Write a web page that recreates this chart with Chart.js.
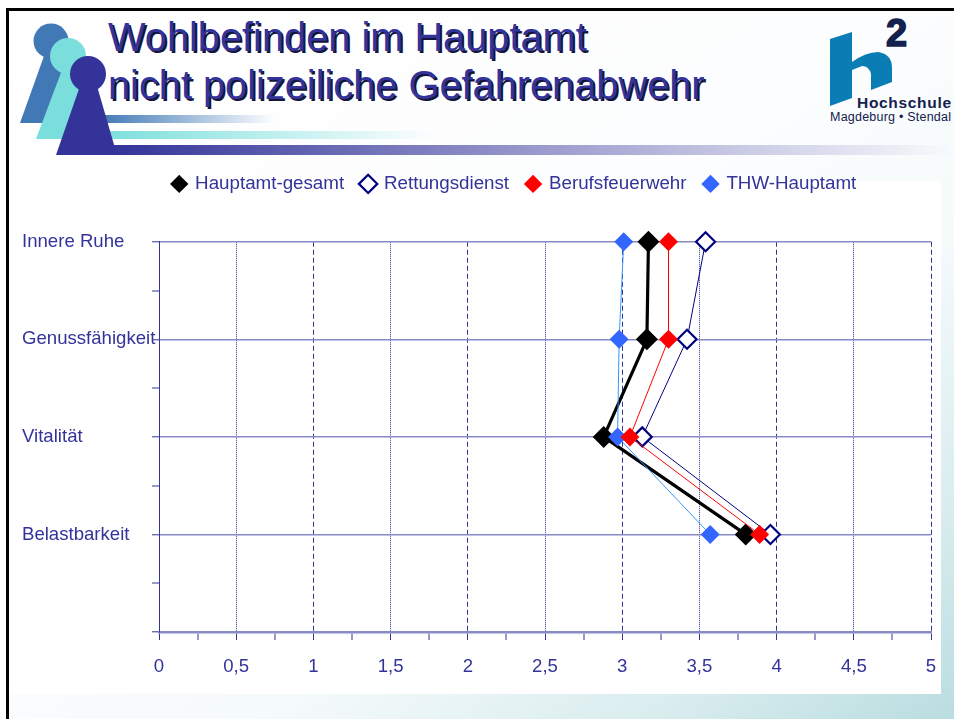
<!DOCTYPE html>
<html lang="de">
<head>
<meta charset="utf-8">
<title>Wohlbefinden im Hauptamt</title>
<script src="https://cdn.jsdelivr.net/npm/chart.js@4"></script>
<style>
html,body{margin:0;padding:0;width:954px;height:719px;overflow:hidden;background:#fff;font-family:"Liberation Sans",Arial,sans-serif}
#slide{position:absolute;left:6px;top:8px;width:948px;height:711px;border-left:3px solid #000;border-top:3px solid #000;box-sizing:border-box;
background:linear-gradient(145deg,#fff 0%,#fcfdfe 45%,#f5fafb 65%,#d8ecee 85%,#b9dde0 100%)}
#panel{position:absolute;left:9px;top:181px;width:932px;height:513px;background:#fff}
#deco{position:absolute;left:0;top:0}
.title{position:absolute;left:108px;color:#333399;font-size:39.75px;line-height:48px;white-space:nowrap;text-shadow:2px 2px 0 #15153a}
canvas{position:absolute;left:0;top:0}
</style>
</head>
<body>
<div id="slide"></div>
<div id="panel"></div>
<svg id="deco" width="954" height="719" xmlns="http://www.w3.org/2000/svg">
<defs>
<linearGradient id="g1"><stop offset="0" stop-color="#4079b5"/><stop offset="1" stop-color="#4079b5" stop-opacity="0"/></linearGradient>
<linearGradient id="g2"><stop offset="0" stop-color="#7adfdc"/><stop offset="1" stop-color="#7adfdc" stop-opacity="0"/></linearGradient>
<linearGradient id="g3"><stop offset="0" stop-color="#333399"/><stop offset="1" stop-color="#333399" stop-opacity="0"/></linearGradient>
</defs>
<rect x="100" y="115" width="175" height="8" fill="url(#g1)"/>
<rect x="100" y="131" width="335" height="8" fill="url(#g2)"/>
<rect x="110" y="145" width="844" height="10" fill="url(#g3)"/>
<path d="M20 123 L44 56 L58 56 L82 123 Z" fill="#4079b5"/><circle cx="51" cy="41" r="17.5" fill="#4079b5"/>
<path d="M36 139 L62 70 L76 70 L100 139 Z" fill="#7adfdc"/><circle cx="68" cy="56" r="18" fill="#7adfdc"/>
<path d="M56 155 L80 86 L97 86 L117 155 Z" fill="#333399"/><circle cx="88" cy="74" r="18" fill="#333399"/>
<path d="M830 39 L852 32 L852 62 Q866 52 878 52 Q892 54 892 68 L892 82 L871 90 L871 74 Q869 66 862 66 L852 70 L852 98 L830 106 Z" fill="#0a7db5"/>
<text x="886" y="46" font-family="Liberation Sans" font-weight="bold" font-size="38" fill="#14204e" stroke="#14204e" stroke-width="1.5">2</text>
<text x="857" y="108" font-family="Liberation Sans" font-weight="bold" font-size="15.5" fill="#14204e" textLength="94">Hochschule</text>
<text x="830" y="121" font-family="Liberation Sans" font-size="12.5" fill="#14204e" textLength="121">Magdeburg • Stendal</text>
</svg>
<div class="title" style="top:13px">Wohlbefinden im Hauptamt</div>
<div class="title" style="top:61px">nicht polizeiliche Gefahrenabwehr</div>
<canvas id="c" width="954" height="719"></canvas>
<script>
const categories = ["Innere Ruhe", "Genussfähigkeit", "Vitalität", "Belastbarkeit"];
const seriesNames = ["Hauptamt-gesamt", "Rettungsdienst", "Berufsfeuerwehr", "THW-Hauptamt"];
const hauptamtGesamt = [3.17, 3.16, 2.88, 3.80];
const rettungsdienst = [3.54, 3.42, 3.13, 3.96];
const berufsfeuerwehr = [3.30, 3.30, 3.05, 3.89];
const thwHauptamt = [3.01, 2.98, 2.97, 3.57];
const xTickStep = 0.25;
const xMin = 0, xMax = 5, yMax = 4;

const INK = "#333399", FONT = "'Liberation Sans', Arial, sans-serif";
const pts = vals => vals.map((v, i) => ({x: v, y: i}));
const isInt = v => Math.abs(v - Math.round(v)) < 1e-6;
const isHalf = v => isInt(v * 2);

const legendShift = {
  id: "legendShift",
  afterLayout(chart) {
    const l = chart.legend;
    l.left += 38; l.right += 38; l.top -= 38.5; l.bottom -= 38.5;
  }
};

new Chart(document.getElementById("c"), {
  type: "line",
  plugins: [legendShift],
  data: {
    datasets: [
      {label: seriesNames[0], data: pts(hauptamtGesamt), order: 3, clip: false, borderColor: "#000", backgroundColor: "#000", borderWidth: 3.2,
       pointStyle: "rectRot", pointRadius: 11, pointBackgroundColor: "#000", pointBorderColor: "#000", pointBorderWidth: 0},
      {label: seriesNames[1], data: pts(rettungsdienst), order: 2, clip: false, borderColor: "#000080", backgroundColor: "#fff", borderWidth: 1,
       pointStyle: "rectRot", pointRadius: 9.5, pointBackgroundColor: "#fff", pointBorderColor: "#000080", pointBorderWidth: 2.2},
      {label: seriesNames[2], data: pts(berufsfeuerwehr), order: 0, clip: false, borderColor: "#ff0000", backgroundColor: "#ff0000", borderWidth: 1,
       pointStyle: "rectRot", pointRadius: 9.5, pointBackgroundColor: "#ff0000", pointBorderColor: "#ff0000", pointBorderWidth: 0},
      {label: seriesNames[3], data: pts(thwHauptamt), order: 1, clip: false, borderColor: "#3399ff", backgroundColor: "#3366ff", borderWidth: 1,
       pointStyle: "rectRot", pointRadius: 9.5, pointBackgroundColor: "#3366ff", pointBorderColor: "#3366ff", pointBorderWidth: 0}
    ]
  },
  options: {
    responsive: false,
    animation: false,
    events: [],
    layout: {padding: {left: 22, right: 23, top: 195.5, bottom: 0}},
    plugins: {
      tooltip: {enabled: false},
      legend: {
        position: "top",
        labels: {usePointStyle: true, boxWidth: 13, boxHeight: 13, padding: 17.5, color: INK,
                 sort: (a, b) => a.datasetIndex - b.datasetIndex,
                 font: {family: FONT, size: 18.75}}
      }
    },
    scales: {
      x: {
        type: "linear", position: "bottom", min: xMin, max: xMax,
        afterFit(s) { s.height = 87; },
        border: {color: "#8a8ac6", width: 2.5, dash: c => {
          const v = c.tick ? c.tick.value : 0;
          return isInt(v) ? [5, 3] : [1, 1];
        }},
        grid: {
          drawTicks: true, tickLength: 8, tickColor: INK, tickWidth: 1,
          color: c => isHalf(c.tick.value) ? INK : "transparent",
          lineWidth: c => isHalf(c.tick.value) ? 1 : 0
        },
        ticks: {
          stepSize: xTickStep, autoSkip: false, maxRotation: 0, padding: 16, color: INK,
          font: {family: FONT, size: 18.6},
          callback: v => isHalf(v) ? String(v).replace(".", ",") : ""
        }
      },
      y: {
        type: "linear", position: "left", min: 0, max: yMax, reverse: true,
        afterFit(s) { s.width = 137; },
        border: {color: INK, width: 1},
        grid: {
          drawTicks: true, tickLength: 7, tickColor: INK, tickWidth: 1,
          color: c => isInt(c.tick.value) ? "#8a8ac6" : "transparent",
          lineWidth: c => isInt(c.tick.value) ? 1.6 : 0
        },
        ticks: {
          stepSize: 0.5, autoSkip: false, crossAlign: "far", padding: 6, color: INK,
          font: {family: FONT, size: 18.6},
          callback: v => (isInt(v) && categories[v] !== undefined) ? categories[v] : ""
        }
      }
    }
  }
});
</script>
</body>
</html>
